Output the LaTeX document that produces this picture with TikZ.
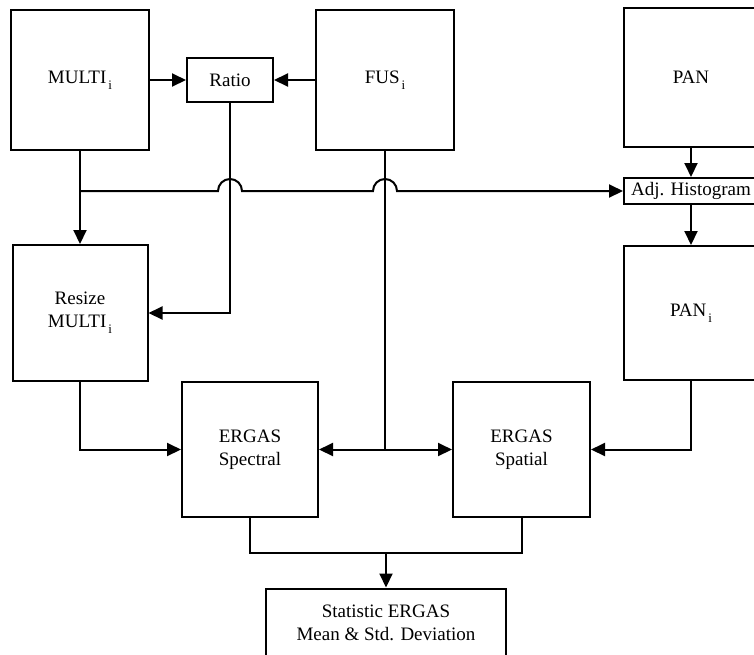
\documentclass[tikz,border=0pt]{standalone}
\usepackage{fontspec}
\setmainfont{Liberation Serif}
\usetikzlibrary{positioning,arrows.meta}
\newcommand{\lowi}{\kern1pt\raisebox{-3pt}{\fontsize{6.5}{6.5}\selectfont i}}

\begin{document}
\begin{tikzpicture}[x=0.5pt, y=-0.5pt, line width=1pt,
  font=\fontsize{9.5}{11.5}\selectfont,
  blk/.style={draw, inner sep=0pt, align=center},
  big/.style={blk, minimum width=68pt, minimum height=68pt},
  small/.style={blk, minimum height=13pt},
  flow/.style={-{Triangle[length=7pt,width=6.5pt]}}]
\useasboundingbox (0,0) rectangle (754,654);
% blocks
\node[big, minimum width=69pt, minimum height=70pt] (multi) at (80,80) {MULTI\lowi};
\node[small, minimum width=43pt, minimum height=22pt] (ratio) at (230,80) {Ratio};
\node[big, minimum width=69pt, minimum height=70pt] (fus) at (385,80) {FUS\lowi};
\node[big, minimum width=67pt, minimum height=69.5pt] (pan) at (691,77.5) {PAN};
\node[small, minimum width=67pt] (adj) at (691,191) {Adj. Histogram};
\node[big, minimum width=67pt, minimum height=67pt] (pani) at (691,313) {PAN\lowi};
\node[big, minimum width=67.5pt] (resize) at (80,313) {Resize\\MULTI\lowi};
\node[big, minimum height=67.5pt] (spectral) at (250,449.5) {ERGAS\\Spectral};
\node[big, minimum width=68.5pt, minimum height=67.5pt] (spatial) at (521.5,449.5) {ERGAS\\Spatial};
\node[small, minimum width=120pt, minimum height=34pt] (stat) at (386,622.5) {Statistic ERGAS\\Mean \& Std. Deviation};
% connectors
\draw[flow] (multi.east) -- (ratio.west);
\draw[flow] (fus.west) -- (ratio.east);
\draw[flow] (multi.south) -- (resize.north);
\draw[flow] (pan.south) -- (adj.north);
\draw[flow] (adj.south) -- (pani.north);
\coordinate (split) at (multi.south |- adj.west);
\coordinate (hopA) at (ratio.south |- adj.west);
\coordinate (hopB) at (fus.south |- adj.west);
\draw[flow] (split) -- ([xshift=-6pt]hopA) arc[start angle=180, end angle=0, radius=6pt]
  -- ([xshift=-6pt]hopB) arc[start angle=180, end angle=0, radius=6pt] -- (adj.west);
\draw[flow] (ratio.south) |- (resize.east);
\coordinate (fork) at (fus.south |- spectral.east);
\draw (fus.south) -- (fork);
\draw[flow] (fork) -- (spectral.east);
\draw[flow] (fork) -- (spatial.west);
\draw[flow] (resize.south) |- (spectral.west);
\draw[flow] (pani.south) |- (spatial.east);
\path (stat.north |- spectral.south) ++(0,35) coordinate (merge);
\draw (spectral.south) |- (merge) -| (spatial.south);
\draw[flow] (merge) -- (stat.north);
\end{tikzpicture}
\end{document}
